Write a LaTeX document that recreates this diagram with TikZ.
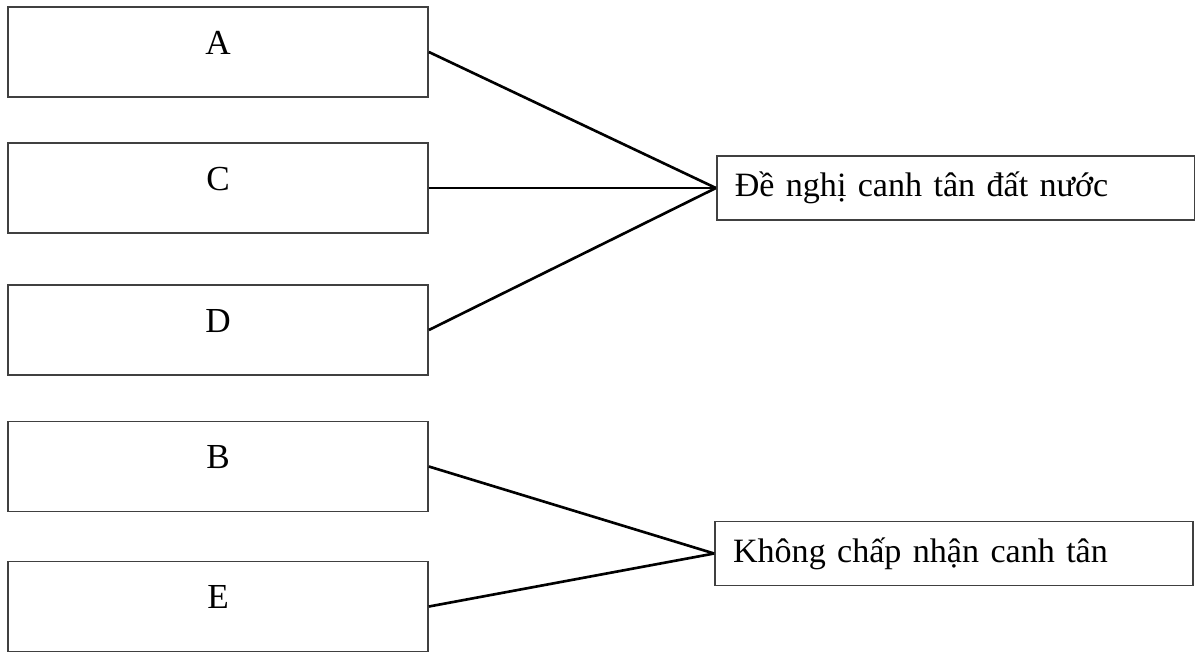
\documentclass[tikz,border=0pt]{standalone}
\usepackage{fontspec}
\setmainfont{Liberation Serif}
\usetikzlibrary{positioning}
\tikzstyle{opcion} = [draw=black!75, line width=1pt, rectangle, minimum width=8.4cm, minimum height=1.8cm, text height=0.5cm, text depth=0.42cm, font=\fontsize{20}{24}\selectfont]
\tikzstyle{respuesta} = [draw=black!75, line width=1pt, rectangle, minimum height=1.28cm, text width=8.84cm, inner xsep=0.36cm, align=left, font=\fontsize{19.4}{24}\selectfont]
\tikzstyle{enlace} = [line width=1.5pt]
\begin{document}
\begin{tikzpicture}
					\useasboundingbox (0,0) rectangle (23.9,-13.04);
					\node[opcion] (A) at (4.36,-1.04) {A};
					\node[opcion] (C) at (4.36,-3.76) {C};
					\node[opcion] (D) at (4.36,-6.6) {D};
					\node[opcion] (B) at (4.36,-9.33) {B};
					\node[opcion] (E) at (4.36,-12.13) {E};
					\node[respuesta, right=5.74cm of C] (canhtan) {Đề nghị canh tân đất nước};
					\node[respuesta] (khongnhan) at (19.08,-11.07) {Không chấp nhận canh tân};
					\draw[enlace] (A.east) -- (canhtan.west);
					\draw[enlace] (C.east) -- (canhtan.west);
					\draw[enlace] (D.east) -- (canhtan.west);
					\draw[enlace] (B.east) -- (khongnhan.west);
					\draw[enlace] (E.east) -- (khongnhan.west);
\end{tikzpicture}
\end{document}
